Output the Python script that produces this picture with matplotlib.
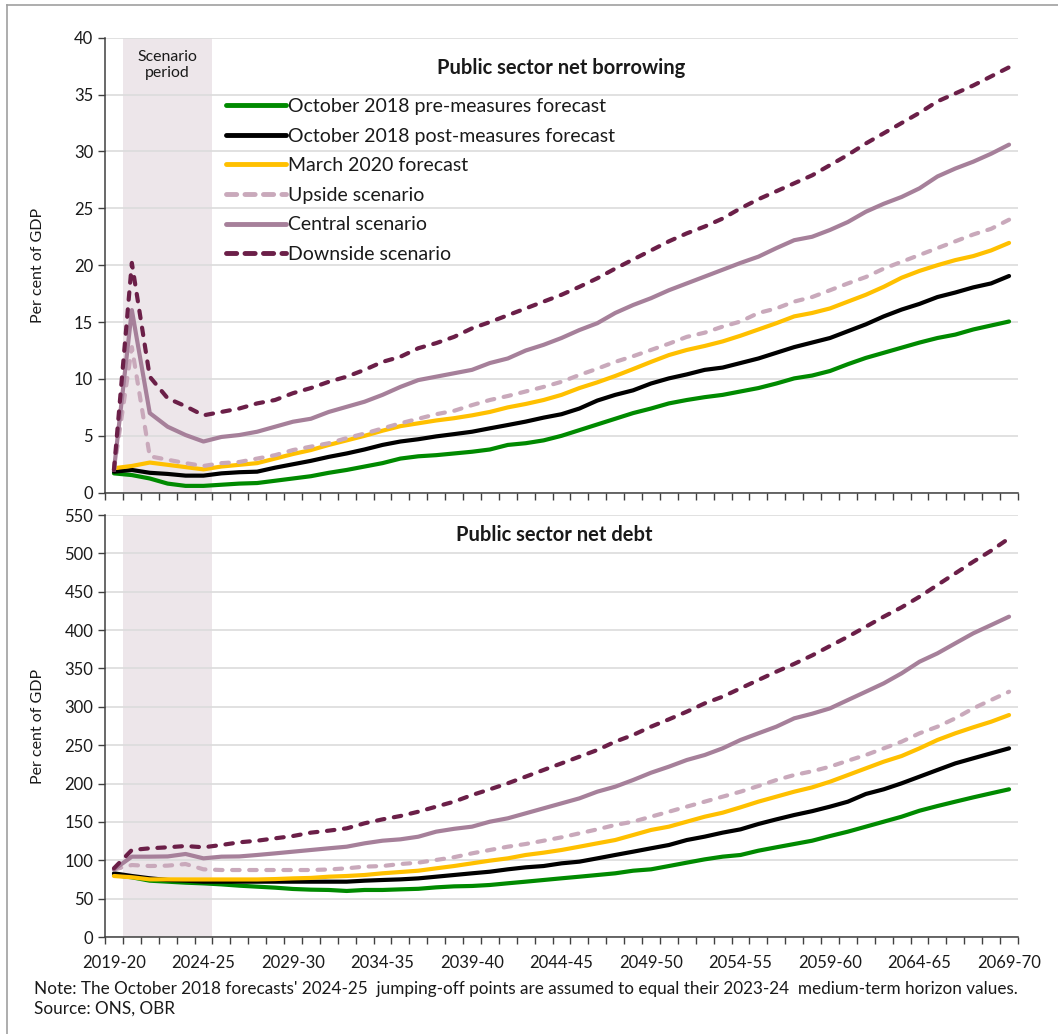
import matplotlib
matplotlib.use("Agg")
from matplotlib import pyplot as plt
from matplotlib.lines import Line2D

plt.rcParams['font.family'] = ['Lato', 'DejaVu Sans']

# fiscal years 2019-20 .. 2069-70
years = [f"{y}-{str(y + 1)[2:]}" for y in range(2019, 2070)]
tick_years = years[::5]

# Public sector net borrowing, per cent of GDP
psnb_pre = [1.7, 1.55, 1.25, 0.8, 0.6, 0.6, 0.7, 0.8, 0.85, 1.05, 1.25, 1.45, 1.75, 2.0, 2.3, 2.6, 3.0, 3.2, 3.3, 3.45,
            3.6, 3.8, 4.2, 4.35, 4.6, 5.0, 5.5, 6.0, 6.5, 7.0, 7.4, 7.85, 8.15, 8.4, 8.6, 8.9, 9.2, 9.6, 10.05,
            10.3, 10.7, 11.3, 11.85, 12.3, 12.75, 13.2, 13.6, 13.9, 14.35, 14.7, 15.05]
psnb_post = [1.85, 2.0, 1.75, 1.65, 1.5, 1.5, 1.7, 1.8, 1.85, 2.2, 2.5, 2.8, 3.15, 3.45, 3.8, 4.2, 4.5, 4.7, 4.95, 5.15,
             5.36, 5.66, 5.95, 6.25, 6.6, 6.9, 7.4, 8.1, 8.6, 9.0, 9.6, 10.05, 10.4, 10.8, 11.0, 11.4, 11.8, 12.3, 12.8,
             13.2, 13.6, 14.2, 14.8, 15.5, 16.1, 16.6, 17.2, 17.6, 18.05, 18.4, 19.05]
psnb_mar20 = [2.15, 2.35, 2.65, 2.45, 2.25, 2.05, 2.3, 2.45, 2.6, 3.0, 3.4, 3.75, 4.2, 4.6, 5.0, 5.45, 5.85, 6.1, 6.35, 6.55,
              6.8, 7.1, 7.5, 7.8, 8.15, 8.6, 9.2, 9.7, 10.26, 10.87, 11.5, 12.1, 12.55, 12.9, 13.3, 13.8, 14.35, 14.9, 15.5,
              15.8, 16.2, 16.8, 17.4, 18.1, 18.9, 19.5, 20.0, 20.45, 20.8, 21.3, 21.96]
psnb_up = [2.0, 12.8, 3.2, 2.9, 2.6, 2.35, 2.6, 2.7, 3.0, 3.3, 3.75, 4.05, 4.35, 4.8, 5.2, 5.65, 6.1, 6.5, 6.9, 7.2,
           7.7, 8.15, 8.5, 8.9, 9.3, 9.75, 10.35, 10.9, 11.5, 12.0, 12.55, 13.1, 13.7, 14.07, 14.6, 15.05, 15.8, 16.2, 16.8,
           17.2, 17.8, 18.4, 18.96, 19.7, 20.3, 20.9, 21.5, 22.1, 22.7, 23.2, 24.0]
psnb_central = [2.0, 16.05, 7.0, 5.8, 5.07, 4.5, 4.9, 5.07, 5.36, 5.8, 6.24, 6.5, 7.1, 7.55, 8.0, 8.6, 9.3, 9.9, 10.2, 10.5,
                10.8, 11.4, 11.8, 12.5, 13.0, 13.6, 14.3, 14.9, 15.8, 16.5, 17.1, 17.8, 18.4, 19.0, 19.6, 20.2, 20.75, 21.5, 22.2,
                22.5, 23.1, 23.8, 24.7, 25.4, 26.0, 26.76, 27.8, 28.5, 29.1, 29.8, 30.6]
psnb_down = [2.0, 20.2, 10.2, 8.3, 7.6, 6.8, 7.1, 7.4, 7.85, 8.15, 8.75, 9.2, 9.75, 10.2, 10.8, 11.5, 11.95, 12.7, 13.15, 13.7,
             14.45, 15.0, 15.6, 16.2, 16.8, 17.4, 18.1, 18.85, 19.7, 20.5, 21.3, 22.1, 22.8, 23.4, 24.1, 25.0, 25.8, 26.5, 27.2,
             27.9, 28.8, 29.7, 30.7, 31.6, 32.5, 33.4, 34.4, 35.1, 35.8, 36.6, 37.4]

# Public sector net debt, per cent of GDP
psnd_pre = [80.8, 77.8, 73.4, 72.1, 70.8, 69.9, 68.6, 66.9, 65.6, 64.3, 62.6, 61.7, 61.3, 60.0, 61.3, 61.3, 62.1, 62.8, 64.7, 66.0,
            66.5, 67.8, 70.0, 72.1, 74.3, 76.5, 78.6, 80.8, 83.0, 86.4, 88.2, 92.5, 96.9, 101.2, 104.7, 106.9, 112.5, 116.9, 121.2,
            125.5, 131.6, 137.3, 143.8, 150.3, 156.8, 164.6, 170.7, 176.4, 182.0, 187.3, 192.5]
psnd_post = [83.0, 79.5, 76.5, 74.3, 73.4, 72.1, 72.1, 72.1, 72.1, 72.1, 72.1, 72.1, 72.1, 72.1, 73.4, 74.3, 75.1, 76.4, 78.6, 80.8,
             83.0, 85.1, 88.2, 90.8, 92.5, 96.0, 98.2, 102.5, 106.9, 111.2, 115.6, 119.9, 126.4, 130.8, 136.0, 140.3, 147.3, 153.3, 159.0,
             164.0, 169.9, 176.4, 186.4, 192.5, 200.3, 209.0, 217.7, 226.3, 232.9, 239.4, 245.9]
psnd_mar20 = [79.5, 77.8, 75.1, 75.1, 75.0, 75.0, 75.0, 75.0, 75.0, 75.5, 76.4, 77.0, 78.6, 79.5, 80.8, 83.0, 84.7, 86.4, 89.5, 92.5,
              96.0, 99.5, 102.5, 106.9, 109.9, 113.4, 117.7, 122.1, 126.4, 132.9, 139.5, 143.8, 150.3, 156.8, 162.0, 169.0, 176.4, 182.9, 189.4,
              195.0, 202.4, 211.1, 219.8, 228.5, 235.9, 245.9, 256.8, 265.5, 273.3, 280.6, 289.3]
psnd_up = [88.0, 93.8, 92.5, 93.0, 95.1, 88.2, 87.3, 87.3, 87.3, 87.3, 87.3, 87.3, 88.0, 89.5, 91.7, 92.5, 95.1, 96.9, 100.4, 104.0,
           109.0, 113.4, 117.7, 121.2, 125.5, 129.9, 135.1, 140.3, 146.0, 150.3, 156.8, 163.3, 169.9, 176.4, 182.9, 189.4, 196.8, 204.6, 211.1,
           216.0, 222.0, 229.8, 237.2, 245.9, 254.6, 265.5, 274.1, 285.0, 298.0, 308.9, 319.7]
psnd_central = [88.0, 104.7, 104.7, 105.0, 108.2, 102.5, 104.7, 105.0, 106.9, 109.0, 111.2, 113.4, 115.6, 117.7, 122.1, 125.5, 127.3, 130.7, 137.3, 141.0,
                143.8, 150.3, 154.7, 161.2, 167.7, 174.2, 180.7, 189.4, 195.9, 204.6, 214.1, 222.0, 230.7, 237.2, 245.9, 256.8, 265.5, 274.1, 285.0,
                291.0, 298.0, 308.9, 319.7, 330.6, 343.7, 358.8, 369.7, 382.8, 395.8, 406.6, 417.5]
psnd_down = [89.5, 113.4, 115.6, 116.9, 118.6, 116.9, 119.9, 123.4, 125.5, 128.6, 131.6, 136.0, 138.6, 141.6, 148.2, 153.3, 157.7, 163.3, 169.9, 176.4,
             185.0, 192.5, 200.3, 209.0, 217.7, 226.3, 235.0, 243.7, 254.6, 263.3, 274.1, 283.7, 293.7, 304.5, 313.2, 324.1, 335.0, 345.8, 356.0,
             367.0, 379.3, 391.4, 404.4, 417.5, 429.7, 443.5, 458.8, 474.0, 489.1, 503.5, 519.6]

labels = ["October 2018 pre-measures forecast", "October 2018 post-measures forecast", "March 2020 forecast",
          "Upside scenario", "Central scenario", "Downside scenario"]
colors = ["#008a00", "#000000", "#ffc000", "#c9a9bb", "#a6809a", "#6b1f48"]
dashed = [False, False, False, True, False, True]

scenario_start, scenario_end = "2020-21", "2024-25"

x = list(range(len(years)))
TEXT = "#1a1a1a"
AXC = "#404040"


def style_axis(ax, ymax, ystep, show_labels):
    ax.set_xlim(-0.5, len(years) - 0.5)
    ax.set_ylim(0, ymax)
    ax.set_yticks(range(0, ymax + 1, ystep))
    ax.yaxis.grid(True, color="#dcdcdc", linewidth=1.2)
    ax.set_axisbelow(True)
    for s in ["top", "right"]:
        ax.spines[s].set_visible(False)
    for s in ["left", "bottom"]:
        ax.spines[s].set_color(AXC)
        ax.spines[s].set_linewidth(1.1)
    ax.set_xticks([years.index(t) for t in tick_years])
    ax.set_xticks([i - 0.5 for i in range(len(years) + 1)], minor=True)
    ax.tick_params(axis="x", which="major", length=0, pad=13, labelsize=12, colors=TEXT)
    ax.tick_params(axis="x", which="minor", length=5, width=1, color=AXC, direction="out")
    ax.tick_params(axis="y", length=5, width=1, color=AXC, labelsize=12, labelcolor=TEXT, pad=3.5)
    if show_labels:
        ax.set_xticklabels(tick_years)
    else:
        ax.set_xticklabels([])
    ax.set_ylabel("Per cent of GDP", fontsize=11.5, color=TEXT)
    ax.yaxis.set_label_coords(-0.066, 0.5)
    s0 = years.index(scenario_start) - 0.5
    s1 = years.index(scenario_end) + 0.5
    ax.axvspan(s0, s1, color="#ede6ea", zorder=0, linewidth=0)


def draw_lines(ax, series):
    for vals, lab, col, d in zip(series, labels, colors, dashed):
        if d:
            ax.plot(x, vals, color=col, lw=3, label=lab, linestyle=(0, (1.8, 2.3)),
                    dash_capstyle="round", solid_capstyle="round", zorder=3)
        else:
            ax.plot(x, vals, color=col, lw=3, label=lab, solid_capstyle="round", zorder=3)


fig = plt.figure(figsize=(10.58, 10.34), dpi=100)
ax1 = fig.add_axes([105 / 1058, 1 - 492.7 / 1034, 913 / 1058, 455 / 1034])
ax2 = fig.add_axes([105 / 1058, 1 - 937 / 1034, 913 / 1058, 422 / 1034])

style_axis(ax1, 40, 5, False)
style_axis(ax2, 550, 50, True)

draw_lines(ax1, [psnb_pre, psnb_post, psnb_mar20, psnb_up, psnb_central, psnb_down])
draw_lines(ax2, [psnd_pre, psnd_post, psnd_mar20, psnd_up, psnd_central, psnd_down])

ax1.text(0.5, 0.933, "Public sector net borrowing", transform=ax1.transAxes, ha="center", va="center",
         fontsize=14.5, fontweight="bold", color=TEXT)
ax2.text(0.492, 0.953, "Public sector net debt", transform=ax2.transAxes, ha="center", va="center",
         fontsize=14.5, fontweight="bold", color=TEXT)
ax1.text(3, 0.94, "Scenario\nperiod", transform=ax1.get_xaxis_transform(), ha="center", va="center",
         fontsize=11.4, color=TEXT, linespacing=1.25)

handles = [Line2D([], [], color=c, lw=3.5, linestyle=(0, (2.1, 1.7)) if d else "-",
                  dash_capstyle="round", solid_capstyle="round") for c, d in zip(colors, dashed)]
ax1.legend(handles, labels, loc="upper left", bbox_to_anchor=(0.132, 0.867), frameon=False,
           fontsize=14, handlelength=3.1, handletextpad=0.1, labelspacing=0.645,
           borderpad=0, borderaxespad=0, labelcolor=TEXT)

fig.text(34 / 1058, 1 - 989 / 1034, "Note: The October 2018 forecasts' 2024-25  jumping-off points are assumed to equal "
         "their 2023-24  medium-term horizon values.", fontsize=12.3, va="center", color=TEXT)
fig.text(34 / 1058, 1 - 1009 / 1034, "Source: ONS, OBR", fontsize=12.3, va="center", color=TEXT)

# frame edges of the original exhibit
fig.add_artist(Line2D([7 / 1058, 7 / 1058], [0, 1 - 5 / 1034], transform=fig.transFigure, color="#a0a0a0", lw=1.2))
fig.add_artist(Line2D([7 / 1058, 1], [1 - 5 / 1034, 1 - 5 / 1034], transform=fig.transFigure, color="#a0a0a0", lw=1.2))

fig.savefig("out.png", dpi=100, facecolor="white")
